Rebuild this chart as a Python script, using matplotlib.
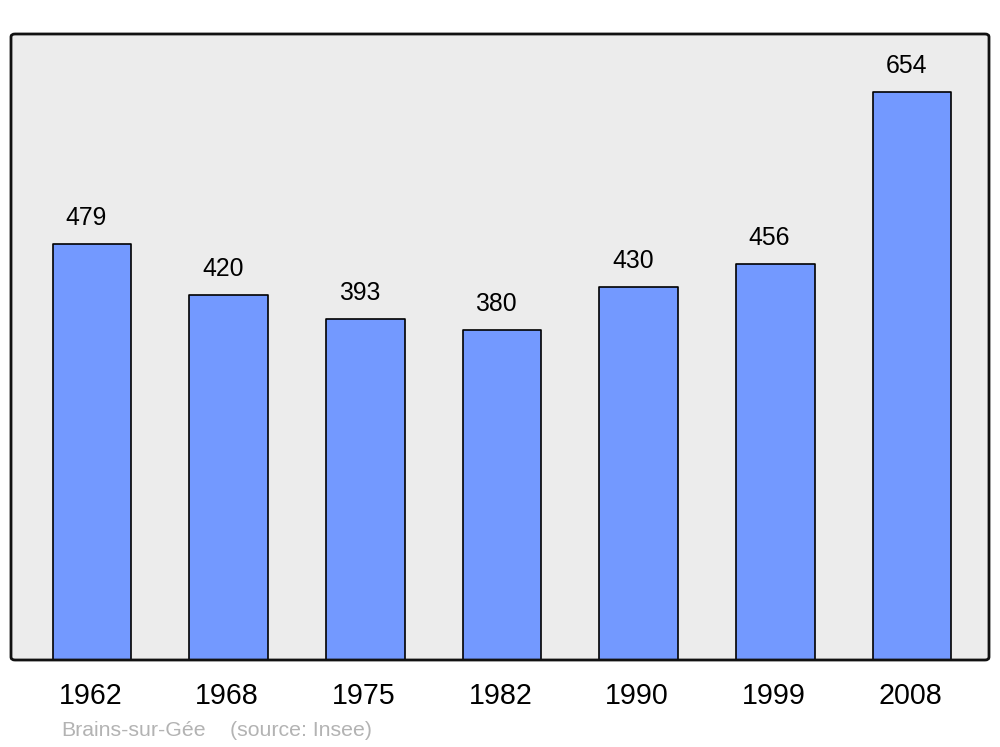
import matplotlib
matplotlib.use("Agg")
import matplotlib.pyplot as plt
from matplotlib.patches import FancyBboxPatch

years = ["1962", "1968", "1975", "1982", "1990", "1999", "2008"]
population = [479, 420, 393, 380, 430, 456, 654]
footer_name = "Brains-sur-Gée"
footer_source = "(source: Insee)"

plt.rcParams['font.family'] = ['Liberation Sans', 'DejaVu Sans']

fig = plt.figure(figsize=(10, 7.47), dpi=100)
fig.patch.set_facecolor('white')
ax = fig.add_axes([11/1000, 87/747, 978/1000, 626/747])
ax.set_facecolor('#ececec')
for s in ax.spines.values():
    s.set_visible(False)

x = list(range(len(years)))
bars = ax.bar(x, population, width=0.575, color='#7399ff', edgecolor='black',
              linewidth=1.2, joinstyle='round')
for xi, v in zip(x, population):
    ax.annotate(str(v), (xi, v), xytext=(-6, 14), textcoords='offset pixels',
                ha='center', va='bottom', fontsize=17.8)

ax.set_xlim(-0.593, 6.563)
ax.set_ylim(0, 721)
ax.set_yticks([])
ax.set_xticks([xi - 0.012 for xi in x])
ax.set_xticklabels(years, fontsize=20.6)
ax.tick_params(axis='x', length=0, pad=16)

frame = FancyBboxPatch((11/1000, 87/747), 978/1000, 626/747,
                       boxstyle='round,pad=0,rounding_size=0.004',
                       transform=fig.transFigure, facecolor='none',
                       edgecolor='#111111', linewidth=2.0, zorder=10)
fig.patches.append(frame)

fig.text(61/1000, 1 - 731/747, footer_name, fontsize=15.3, color='#b3b3b3',
         ha='left', va='center')
fig.text(230/1000, 1 - 731/747, footer_source, fontsize=15.3, color='#b3b3b3',
         ha='left', va='center')

fig.savefig('out.png', dpi=100)
